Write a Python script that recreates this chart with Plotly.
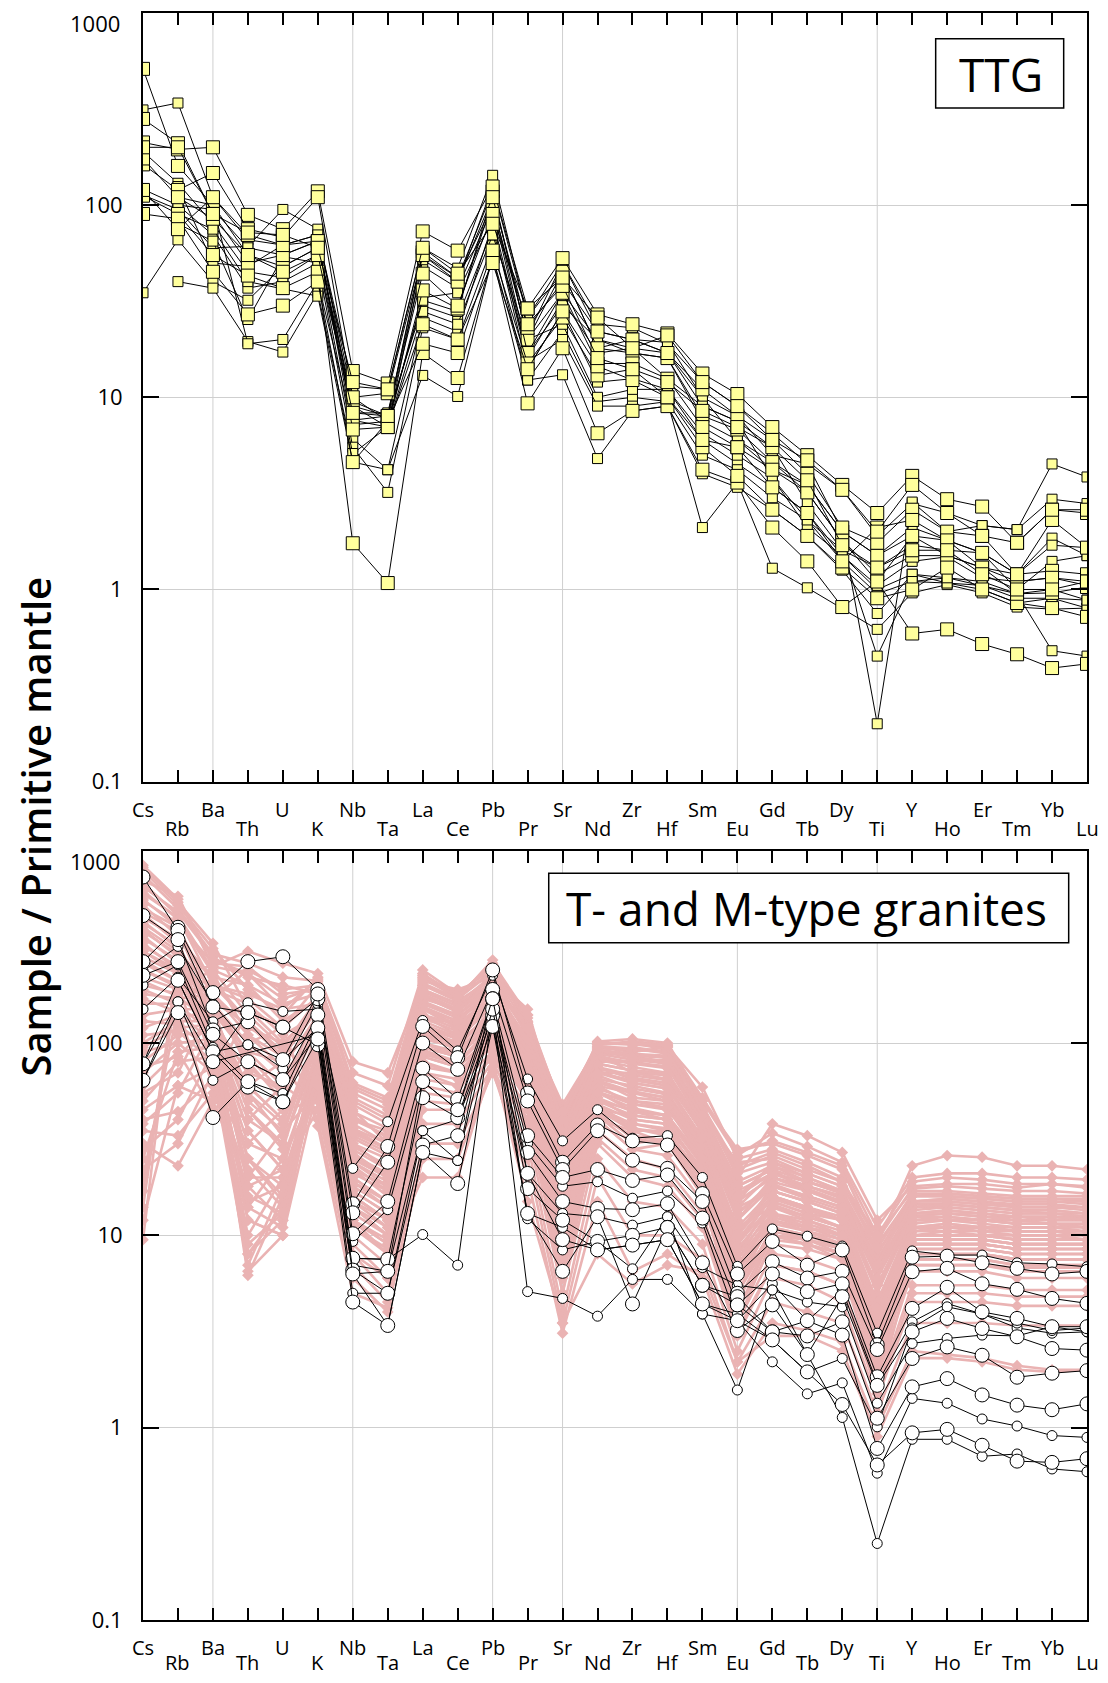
import plotly.graph_objects as go

# ---------------- data ----------------
ELEMENTS = ["Cs", "Rb", "Ba", "Th", "U", "K", "Nb", "Ta", "La", "Ce", "Pb", "Pr", "Sr", "Nd",
            "Zr", "Hf", "Sm", "Eu", "Gd", "Tb", "Dy", "Ti", "Y", "Ho", "Er", "Tm", "Yb", "Lu"]
Y_TICK_VALUES = [0.1, 1, 10, 100, 1000]
Y_TICK_LABELS = ["0.1", "1", "10", "100", "1000"]
GRID_ELEMENTS = ["Ba", "Nb", "Pb", "Sr", "Eu", "Ti"]
PANEL_LABELS = ["TTG", "T- and M-type granites"]
Y_TITLE = "Sample / Primitive mantle"

# TTG (top panel) - large squares
TTG_LARGE = [
    [512, 160, 100, 55, 48, 60, 9.0, 8.0, 57, 42, 118, 20, 45, 18, 17, 16, 8, 6.8, 4.6, 3.5, 2.0, 1.5, 1.9, 1.8, 1.55, 1.2, 1.25, 1.2],
    [281, 210, 90, 50, 55, 65, 7.6, 7.0, 36, 29, 105, 17, 35, 15, 15, 12.5, 7, 5.5, 4.2, 3.2, 1.8, 1.2, 1.5, 1.5, 1.3, 1.1, 1.15, 1.1],
    [212, 195, 200, 89, 75, 118, 13.7, 11.8, 73, 58, 125, 29, 53, 27, 24, 21.5, 13.3, 10.4, 7.0, 5.0, 3.5, 2.5, 3.9, 2.95, 2.7, 1.75, 2.6, 2.5],
    [163, 120, 147, 75, 68, 110, 10, 10.5, 55, 40, 110, 23, 40, 22, 20, 17, 11, 8, 6, 4, 2.1, 1.75, 2.6, 2.0, 1.9, 1.2, 2.3, 1.65],
    [112, 90, 55, 43, 37, 45, 1.74, 1.08, 17, 12.6, 54, 9.3, 18, 6.5, 8.5, 9, 4.2, 3.6, 2.1, 1.4, 0.81, 1.1, 0.59, 0.62, 0.52, 0.46, 0.39, 0.41],
    [90, 85, 45, 27, 30, 40, 4.6, 7.5, 19, 17, 58, 15, 26, 13, 14, 10, 5.5, 3.9, 2.6, 1.9, 1.3, 0.9, 1.0, 1.3, 1.0, 0.85, 0.8, 0.72],
    [120, 75, 110, 70, 62, 65, 6.8, 7.0, 24, 20, 50, 14, 28, 14.5, 12.3, 10, 6, 5.5, 3.4, 2.5, 1.4, 2.1, 2.3, 1.8, 1.3, 0.95, 0.96, 1.03],
    [175, 110, 85, 55, 45, 55, 8.3, 8.0, 44, 30, 90, 24, 38, 16, 14, 12, 8.5, 7, 5.5, 3.7, 1.7, 1.3, 1.6, 1.6, 1.2, 1.0, 1.0, 1.1],
    [200, 200, 90, 72, 70, 60, 12, 11, 60, 44, 80, 29, 42, 26, 18, 21, 12, 9, 6, 4.7, 3.3, 2.0, 3.5, 2.5, 1.9, 1.75, 2.6, 2.6],
]
# TTG (top panel) - small squares
TTG_SMALL = [
    [313, 340, 110, 66, 62, 70, 11.4, 11.0, 60, 47, 143, 26, 50, 24, 23, 19, 12, 9, 6.5, 4.5, 3.3, 1.9, 2.8, 2.5, 2.15, 2.05, 2.95, 2.8],
    [190, 130, 80, 45, 42, 55, 6.1, 4.2, 26, 22, 80, 14, 28, 12, 12.5, 11, 6, 4.5, 3.4, 2.5, 1.5, 1.0, 1.2, 1.15, 1.1, 0.95, 1.0, 0.88],
    [121, 100, 70, 37, 40, 50, 5.5, 3.2, 23, 20, 62, 12.3, 22, 9.5, 10, 9.5, 5, 4.2, 3.0, 2.3, 1.4, 0.95, 1.1, 1.08, 1.05, 0.9, 0.9, 0.8],
    [113, 95, 60, 61, 95, 75, 8.3, 8.3, 48, 37, 97, 16, 32, 17, 18, 12.5, 9, 7.5, 5.5, 2.8, 1.6, 1.3, 1.7, 1.6, 1.55, 1.0, 1.4, 1.5],
    [35, 66, 40, 32, 48, 60, 9.5, 8.0, 30, 26, 75, 17, 30, 20, 17, 16, 7.5, 6, 4.2, 3.5, 2.0, 1.5, 2.1, 1.8, 1.55, 1.2, 1.85, 1.5],
    [None, 40, 37, 19.5, 17.2, 35, 5.1, 7.0, 28, 24, 70, 20, 24, 10, 11, 11, 6.5, 5.0, 3.8, 2.1, 1.5, 1.05, 1.4, 1.48, 1.15, 1.1, 1.15, 1.05],
    [None, 110, 100, 19, 20, 40, 7.2, 7.5, 33, 35, 85, 15.4, 20, 9, 9, 9.5, 2.1, 3.6, 1.29, 1.02, None, 0.62, 0.96, 1.06, 0.96, 0.81, 0.79, 0.8],
    [None, 80, 65, 25.4, 54, 50, 9.0, 7.0, 52, 40, 125, 26, 45, 18, 20, 19.3, 10, 8, 5.0, 4.5, 2.0, 0.2, 2.85, 2.0, 2.15, 2.05, 4.5, 3.85],
    [None, 90, 75, 40, 36.5, 33.6, 4.6, 4.2, 13, 10.1, 54, 12.3, 13.1, 4.8, 8.5, 9, 4.0, 3.4, 2.6, 1.9, 1.26, 0.75, 1.2, 1.08, 1.0, 0.85, 0.9, 0.88],
    [None, 125, 50, 48, 62, 70, 10, 7.5, 32, 28, 115, 20, 35, 20, 18, 17, 10, 6, 4.6, 3.2, 1.8, 1.1, 1.9, 1.5, 1.3, 1.2, 1.7, 1.65],
    [None, 100, 95, 60, 55, 65, 7.6, 8.0, 55, 42, 100, 21, 50, 22, 20, 17, 9, 7.5, 3.8, 2.3, 1.6, 0.45, 1.1, 1.15, 1.05, 0.95, 0.48, 0.45],
]

# T- and M-type granites (bottom panel) - pink field
TM_FIELD = [
    [820, 540, 330, 150, 120, 200, 45, 30, 240, 180, 250, 140, 40, 102, 105, 100, 50, 28, 30, 26, 22, 9, 23, 26, 25.5, 23, 23, 22],
    [700, 580, 250, 300, 260, 230, 80, 70, 200, 170, 270, 120, 48, 95, 90, 95, 48, 20, 38, 33, 27, 12, 18, 18.5, 18.5, 17.7, 18.5, 17.7],
    [650, 480, 280, 220, 200, 180, 55, 45, 210, 190, 220, 150, 35, 100, 98, 96, 59, 25, 28, 24, 20, 8, 16, 16, 15.5, 15, 15, 14.5],
    [600, 450, 200, 180, 150, 160, 40, 35, 180, 150, 230, 110, 30, 90, 85, 80, 45, 15, 24, 20, 17, 6, 15, 15.5, 15, 14, 14, 14],
    [550, 420, 260, 250, 180, 190, 50, 40, 190, 160, 200, 125, 25, 85, 95, 90, 40, 12, 20, 18, 16, 5, 14, 14.5, 14, 13.5, 13, 13],
    [500, 400, 180, 120, 100, 150, 35, 28, 160, 140, 190, 100, 22, 80, 80, 75, 38, 18, 22, 17, 15, 7, 13, 13.5, 13, 12.5, 12.5, 12.5],
    [480, 380, 150, 90, 80, 130, 30, 25, 150, 120, 180, 95, 20, 70, 70, 68, 35, 10, 18, 16, 14, 4, 12.5, 13, 12.5, 12, 12, 12],
    [450, 350, 220, 200, 130, 170, 42, 32, 140, 110, 210, 90, 28, 75, 65, 60, 32, 14, 17, 15, 13, 5.5, 12, 12, 12, 11.5, 11.5, 11],
    [420, 320, 130, 70, 60, 120, 28, 22, 130, 130, 160, 85, 18, 65, 60, 55, 30, 9, 16, 14, 12, 3.5, 11, 11.5, 11, 11, 11, 10.5],
    [400, 300, 190, 160, 110, 140, 25, 20, 120, 100, 170, 80, 15, 60, 55, 50, 28, 8, 15, 13, 11, 4.5, 10.5, 11, 10.5, 10.5, 10.5, 10],
    [380, 290, 160, 100, 70, 110, 22, 18, 110, 95, 150, 75, 12, 55, 50, 48, 26, 11, 14, 12, 10, 3, 10, 10, 10, 9.5, 9.5, 9.5],
    [350, 270, 140, 60, 40, 100, 20, 15, 100, 90, 140, 70, 10, 50, 45, 42, 24, 7, 13, 11, 9.5, 2.5, 9.5, 9.5, 9.5, 9, 9, 9],
    [320, 250, 120, 40, 30, 90, 18, 14, 95, 85, 130, 65, 8, 48, 40, 38, 22, 6, 12, 10.5, 9, 2.2, 9, 9, 9, 8.5, 8.5, 8.5],
    [300, 240, 110, 30, 25, 80, 16, 12, 90, 80, 120, 60, 7, 45, 35, 35, 20, 5, 11, 10, 8.5, 2, 8.5, 8.5, 8.5, 8, 8, 8],
    [280, 230, 100, 20, 20, 75, 15, 11, 85, 75, 110, 55, 6, 42, 30, 32, 18, 4, 10, 9.5, 8, 1.8, 8, 8, 8, 7.5, 7.5, 7.5],
    [260, 210, 95, 15, 18, 70, 14, 10, 80, 70, 100, 50, 5, 40, 28, 30, 16, 3.5, 9.5, 9, 7.5, 1.5, 7.5, 7.5, 7.5, 7, 7, 7],
    [240, 200, 170, 240, 190, 200, 60, 50, 220, 170, 240, 130, 42, 98, 100, 92, 46, 22, 26, 22, 19, 10, 17, 17, 16.5, 16, 16, 16],
    [220, 190, 240, 200, 160, 180, 48, 38, 200, 165, 215, 115, 38, 92, 88, 86, 42, 24, 25, 21, 18, 9, 16, 16.5, 16, 15.5, 15.5, 15],
    [200, 180, 200, 130, 90, 160, 38, 30, 170, 150, 195, 105, 32, 88, 82, 78, 40, 16, 21, 19, 17, 8, 15, 15, 14.5, 14, 14, 13.5],
    [180, 170, 180, 110, 75, 140, 32, 26, 160, 135, 185, 100, 27, 82, 75, 70, 36, 13, 19, 17, 15, 7, 14, 14, 13.5, 13, 13, 12.5],
    [160, 160, 160, 80, 50, 120, 26, 21, 140, 125, 175, 92, 24, 75, 68, 64, 34, 12, 18, 16, 14, 6.5, 13, 13, 12.5, 12.5, 12, 12],
    [140, 150, 150, 50, 35, 110, 24, 19, 135, 115, 165, 88, 21, 72, 62, 58, 31, 10, 17, 15, 13, 5.5, 12, 12.5, 12, 12, 11.5, 11.5],
    [120, 140, 140, 45, 30, 100, 21, 17, 125, 105, 155, 82, 19, 68, 58, 54, 29, 9, 16, 14, 12.5, 4.5, 11.5, 12, 11.5, 11, 11, 11],
    [100, 130, 130, 25, 15, 95, 19, 15, 115, 100, 145, 78, 16, 64, 52, 50, 27, 8, 15, 13, 12, 4, 11, 11, 11, 10.5, 10.5, 10.5],
    [95, 120, 125, 18, 12, 90, 17, 13, 110, 92, 135, 72, 14, 60, 48, 46, 25, 7.5, 14, 12.5, 11, 3.5, 10.5, 10.5, 10.5, 10, 10, 10],
    [80, 110, 115, 12, 10, 85, 15, 12, 100, 85, 125, 66, 12, 56, 44, 42, 23, 6.5, 13, 12, 10.5, 3, 10, 10, 10, 9.5, 9.5, 9.5],
    [70, 100, 105, 8, 14, 80, 13, 10, 92, 80, 115, 60, 10, 52, 40, 38, 21, 5.5, 12, 11, 10, 2.8, 9.5, 9.5, 9.5, 9, 9, 9],
    [60, 90, 95, 6.2, 16, 70, 12, 9, 85, 75, 105, 55, 9, 48, 36, 34, 19, 5, 11, 10, 9, 2.5, 9, 9, 9, 8.5, 8.5, 8.5],
    [50, 80, 85, 10, 20, 65, 11, 8, 75, 70, 95, 50, 8, 44, 32, 30, 17, 4.5, 10, 9.5, 8.5, 2.2, 8.5, 8.5, 8.5, 8, 8, 8],
    [45, 60, 75, 14, 25, 60, 10, 7, 65, 60, 90, 45, 7, 40, 28, 26, 15, 4, 9, 8.5, 7.5, 2, 7.5, 7.5, 7.5, 7, 7, 7],
    [40, 44, 65, 20, 35, 55, 9, 6, 55, 52, 85, 40, 6, 35, 25, 22, 13, 3.5, 8, 7.5, 6.5, 1.8, 6.5, 6.5, 6.5, 6, 6, 6],
    [35, 33, 55, 30, 45, 50, 8, 5, 45, 45, 80, 35, 5, 30, 20, 18, 11, 3, 7, 6.5, 5.5, 1.6, 5.5, 5.5, 5.5, 5.2, 5.2, 5.2],
    [30, 23, 50, 40, 60, 45, 7, 4.5, 38, 38, 75, 30, 4, 25, 15, 14, 9, 2.5, 6, 5.5, 4.5, 1.4, 4.5, 4.5, 4.5, 4.3, 4.3, 4.3],
    [25, 90, 45, 60, 80, 40, 6, 4, 30, 30, 70, 25, 3.5, 20, 10, 10, 7.5, 2.2, 4.5, 4, 3.5, 1.2, 3.5, 3.5, 3.5, 3.4, 3.4, 3.4],
    [20, 150, 42, 100, 120, 37, 5, 4.2, 25, 25, 72, 20, 3.1, 15, 6.5, 8, 6, 1.9, 3.5, 3.2, 2.8, 1.0, 2.5, 2.4, 2.3, 2.1, 2.0, 2.0],
    [17, 200, 60, 150, 100, 60, 12, 8, 20, 20, 80, 15, 3.5, 8, 5.6, 7, 6.5, 2.2, 3.0, 3.0, 2.5, 0.9, 2.3, 2.3, 2.2, 2.0, 1.95, 2.0],
    [14, 250, 80, 8, 12, 70, 25, 20, 60, 55, 110, 48, 15, 40, 35, 30, 18, 6, 10, 9, 8, 3, 7, 7, 7, 6.5, 6.5, 6.5],
    [9.5, 300, 100, 6.5, 10, 90, 30, 22, 70, 60, 120, 52, 18, 45, 42, 40, 20, 7, 11, 9.5, 8.5, 3.5, 8, 8, 8, 7.5, 7.5, 7.5],
    [750, 500, 290, 260, 220, 210, 70, 60, 230, 175, 255, 135, 45, 98, 102, 98, 50, 26, 34, 29, 24, 11, 20, 21, 21, 20, 20, 19.5],
    [680, 460, 240, 140, 95, 170, 40, 33, 175, 145, 225, 108, 33, 84, 80, 82, 44, 19, 23, 19, 16.5, 7.5, 14.5, 14.5, 14, 13.5, 13.5, 13],
    [790, 520, 310, 190, 140, 220, 58, 48, 225, 180, 245, 128, 38, 96, 94, 88, 47, 23, 27, 23, 19, 9.5, 17.5, 18, 17.5, 17, 17, 16.5],
    [620, 440, 230, 110, 85, 150, 36, 30, 185, 155, 205, 112, 30, 86, 78, 74, 41, 17, 21, 18, 15.5, 6.5, 13.5, 14, 13.5, 13, 13, 12.5],
    [560, 400, 170, 75, 55, 125, 27, 20, 150, 125, 175, 92, 24, 74, 66, 62, 35, 13, 18, 15.5, 13.5, 5, 12.5, 12.5, 12, 11.5, 11.5, 11.5],
    [520, 360, 210, 130, 85, 165, 33, 27, 165, 140, 200, 100, 26, 78, 72, 70, 37, 15, 20, 17, 14.5, 6, 13, 13.5, 13, 12.5, 12.5, 12],
    [470, 330, 140, 55, 38, 115, 23, 17, 120, 105, 160, 78, 17, 62, 56, 52, 30, 10.5, 16, 13.5, 12, 4, 11, 11, 11, 10.5, 10.5, 10],
    [430, 310, 120, 35, 22, 95, 19, 14, 105, 95, 150, 70, 13, 56, 48, 45, 27, 9, 14.5, 12.5, 11, 3.2, 10, 10, 10, 9.5, 9.5, 9.5],
    [390, 280, 105, 25, 16, 85, 16, 12, 95, 85, 135, 64, 11, 50, 42, 40, 24, 8, 13, 11.5, 10, 2.8, 9.5, 9.5, 9.5, 9, 9, 9],
    [360, 260, 90, 16, 13, 75, 14, 10, 88, 78, 125, 58, 9, 45, 38, 36, 22, 7, 12, 10.5, 9.5, 2.4, 9, 9, 9, 8.5, 8.5, 8.5],
    [330, 240, 250, 230, 170, 195, 52, 42, 205, 170, 235, 120, 40, 94, 92, 90, 45, 21, 24, 21, 18, 8.5, 16.5, 16.5, 16, 15.5, 15.5, 15.5],
    [300, 230, 200, 170, 120, 175, 44, 36, 190, 160, 225, 110, 35, 90, 86, 84, 42, 18, 22, 19, 16.5, 7.5, 15, 15.5, 15, 14.5, 14.5, 14],
    [270, 210, 165, 125, 85, 150, 36, 28, 175, 145, 205, 100, 29, 84, 78, 76, 39, 15, 20, 17.5, 15, 6.5, 14, 14.5, 14, 13.5, 13.5, 13],
    [240, 195, 145, 85, 55, 130, 29, 23, 155, 130, 185, 92, 25, 78, 72, 68, 36, 13, 18.5, 16, 14, 5.5, 13, 13, 13, 12.5, 12.5, 12],
    [210, 175, 125, 55, 33, 110, 24, 18, 140, 118, 170, 85, 21, 70, 64, 60, 32, 11, 17, 15, 13, 4.5, 12, 12, 12, 11.5, 11.5, 11],
    [190, 160, 110, 35, 22, 95, 20, 15, 125, 108, 155, 76, 18, 64, 56, 52, 29, 9.5, 15.5, 13.5, 12, 3.8, 11, 11, 11, 10.5, 10.5, 10.5],
    [170, 145, 100, 22, 14, 85, 17, 13, 112, 98, 140, 68, 15, 58, 50, 46, 26, 8.5, 14, 12.5, 11, 3.2, 10, 10.5, 10, 10, 10, 9.5],
    [130, 125, 90, 14, 11, 75, 14, 11, 100, 88, 128, 62, 13, 52, 44, 40, 23, 7.5, 12.5, 11, 10, 2.7, 9.5, 9.5, 9.5, 9, 9, 9],
    [110, 115, 80, 9, 13, 65, 12, 9.5, 88, 78, 118, 56, 11, 46, 38, 35, 20, 6.5, 11.5, 10.5, 9, 2.3, 8.5, 8.5, 8.5, 8, 8, 8],
    [90, 100, 70, 7, 18, 58, 11, 8.5, 78, 70, 108, 50, 9.5, 42, 33, 31, 18, 5.5, 10.5, 9.5, 8.5, 2.0, 8, 8, 8, 7.5, 7.5, 7.5],
    [75, 85, 130, 45, 28, 110, 26, 20, 150, 130, 190, 105, 35, 88, 70, 65, 38, 14, 21, 18, 16, 6, 15, 15, 14.5, 14, 14, 14],
    [55, 70, 160, 90, 60, 140, 34, 28, 180, 150, 210, 118, 40, 92, 84, 80, 42, 16, 23, 20, 17, 7, 16, 16, 15.5, 15, 15, 15],
    [38, 55, 120, 60, 40, 100, 22, 16, 130, 110, 165, 85, 22, 70, 62, 58, 32, 10, 16, 14, 12, 4.2, 11, 11.5, 11, 10.5, 10.5, 10.5],
    [28, 40, 90, 25, 18, 80, 16, 12, 95, 85, 130, 65, 14, 55, 46, 42, 25, 7, 13, 11, 10, 3, 9, 9, 9, 8.5, 8.5, 8.5],
    [22, 30, 70, 12, 10, 60, 12, 9, 70, 65, 110, 50, 10, 45, 36, 33, 19, 5, 10, 9, 8, 2.2, 7, 7, 7, 6.8, 6.8, 6.8],
    [12, 60, 50, 18, 22, 45, 8, 6, 50, 48, 90, 38, 6.5, 32, 22, 20, 12, 3.2, 7, 6.5, 5.5, 1.5, 5, 5, 5, 4.8, 4.8, 4.8],
    [840, 560, 270, 230, 150, 215, 62, 52, 215, 175, 260, 140, 44, 100, 100, 97, 52, 27, 31, 27, 23, 10, 19, 20, 19.5, 18.5, 18.5, 18],
]

# T- and M-type granites (bottom panel) - black lines, large circles
TM_LARGE = [
    [265, 400, 183, 265, 281, 190, 14.6, 29, 122, 84, 240, 55, 24, 37.5, 31, 29.5, 16.5, 6.3, 9.3, 7.0, 8.4, 2.7, 7.7, 7.8, 7.2, 6.74, 6.3, 6.5],
    [730, 385, 154, 144, 121, 170, 13.1, 24, 100, 73, 190, 50, 22, 35, 24.6, 22.3, 15, 5.0, 7.3, 6.0, 6.5, 2.55, 6.47, 6.74, 5.6, 5.24, 4.7, 4.43],
    [460, 345, 117, 129, 82, 180, 10.2, 15, 74, 51, 170, 33, 20, 22, 19.3, 20.6, 12.3, 4.35, 6.3, 5.1, 5.6, 1.84, 4.17, 5.37, 4.0, 3.7, 3.35, 3.35],
    [225, 265, 111, 80, 64.6, 140, 7.6, 7.5, 52, 41, 139, 27, 15, 13.8, 13.6, 14.6, 7.2, 3.2, 4.35, 2.4, 4.8, 1.66, 3.15, 3.7, 3.28, 2.97, 2.58, 2.53],
    [78, 212, 90, 59, 49.5, 120, 6.6, 5.0, 29.5, 33, 150, 17.5, 12, 9.3, 10, 11, 5.5, 4.8, 3.15, 3.0, 3.55, 1.12, 2.29, 2.63, 2.38, 1.83, 1.92, 1.98],
    [None, None, 80, 144, 121, 98, 4.5, 3.4, 27, 18.6, 122, 13, 6.5, 12.5, 4.4, 11, 5.5, 4.35, 3.15, 3.6, 3.03, 0.78, 1.63, 1.8, 1.48, 1.31, 1.24, 1.33],
    [64, 144, 41, 63, 49.5, 105, 6.3, 6.5, 63, 45, 170, 21, 9.5, 8.4, 8.9, 9.5, 4.4, 3.6, 2.86, 1.95, 1.32, 0.64, 0.94, 0.98, 0.81, 0.67, 0.66, 0.69],
]
# T- and M-type granites (bottom panel) - black lines, small circles
TM_SMALL = [
    [150, 220, 129, 162, 146, 150, 22.3, 39, 131, 91, 225, 65, 31, 45, 32, 33, 20, 6.9, 10.8, 9.9, 8.8, 3.1, 8.3, 7.9, 7.9, 7.2, 7.1, 6.87],
    [237, 318, 160, 98, 73.5, 160, 9.3, 13.6, 63, 45, 150, 30, 18, 19, 15.6, 17, 11.6, 3.6, 5.6, 3.6, 5.2, 1.7, 3.55, 4.42, 3.9, 3.3, 3.1, 3.15],
    [200, 255, 95, 63, 54.7, 130, 7.0, 6.5, 35, 40, 122, 21, 13, 12.5, 11.3, 12.5, 6.8, 5.5, 5.2, 4.5, 4.25, 1.34, 2.74, 2.91, 3.03, 3.0, 3.35, 3.15],
    [64, 164, 80, None, None, 110, 6.3, 3.4, 27, 24.5, 139, 13, 11, 8.4, 8.9, 9.5, 4.4, 3.9, 2.86, 1.95, 2.29, 1.01, 3.3, 4.25, 3.9, 3.5, 3.2, 3.3],
    [78, 164, 64, 80, 64.6, 110, 5.0, 5.0, 35, 24.5, 190, 12.2, 8.4, 9.3, 6.7, 12.5, 3.9, 1.57, 5.2, 2.4, 1.13, 0.25, 0.87, 0.87, 0.71, 0.73, 0.61, 0.59],
    [None, 212, 90, 98, 82, 120, 7.6, 7.5, 10.1, 7.0, 150, 5.1, 4.7, 3.8, 5.9, 5.9, 3.9, 3.6, 2.2, 1.5, 1.71, 0.58, 1.42, 1.34, 1.11, 1.02, 0.91, 0.89],
]

# ---------------- styling ----------------
FONT = "Open Sans"
PINK = "#EAB3B3"
YELLOW = "#FFFF9C"
GRID = "#CFCFCF"

fig = go.Figure()


def add_series(series_list, xaxis, yaxis, line, marker):
    for vals in series_list:
        fig.add_trace(go.Scatter(
            x=ELEMENTS, y=vals, xaxis=xaxis, yaxis=yaxis,
            mode="lines+markers", connectgaps=True,
            line=line, marker=marker, hoverinfo="skip", showlegend=False))


sq_line = dict(color="black", width=1)
add_series(TTG_SMALL, "x", "y", dict(color="black", width=1),
           dict(symbol="square", size=10, color=YELLOW, line=sq_line))
add_series(TTG_LARGE, "x", "y", dict(color="black", width=1),
           dict(symbol="square", size=13, color=YELLOW, line=sq_line))

add_series(TM_FIELD, "x2", "y2", dict(color=PINK, width=2.6),
           dict(symbol="diamond", size=9, color=PINK, line=dict(width=0)))
add_series(TM_SMALL, "x2", "y2", dict(color="black", width=1),
           dict(symbol="circle", size=10, color="white", line=dict(color="black", width=1)))
add_series(TM_LARGE, "x2", "y2", dict(color="black", width=1),
           dict(symbol="circle", size=14, color="white", line=dict(color="black", width=1)))

TOP_DOMAIN = [0.5217, 1.0]
BOT_DOMAIN = [0.0, 0.4787]

# tick labels: the top one ("1000") is drawn separately, slightly below the frame corner
axis_tick_text = Y_TICK_LABELS[:-1] + [""]

xcommon = dict(type="category", categoryorder="array", categoryarray=ELEMENTS,
               range=[0, 27], showgrid=False, zeroline=False, automargin=False,
               showline=True, linecolor="black", linewidth=2, mirror="ticks",
               ticks="inside", ticklen=12, tickwidth=1.5, tickcolor="black",
               showticklabels=False)
ycommon = dict(type="log", range=[-1, 3], tickvals=Y_TICK_VALUES, ticktext=axis_tick_text,
               showgrid=True, gridcolor=GRID, gridwidth=1, zeroline=False, automargin=False,
               showline=True, linecolor="black", linewidth=2, mirror="ticks",
               ticks="inside", ticklen=16, tickwidth=2, tickcolor="black",
               tickfont=dict(family=FONT, size=22, color="black"),
               ticklabelstandoff=14, ticklabeloverflow="allow")
xouter = dict(type="linear", range=[0, 27], tick0=0, dtick=1, showgrid=False, automargin=False,
              zeroline=False, showline=False, ticks="outside", ticklen=11,
              tickwidth=1.5, tickcolor="black", showticklabels=False)

# the page body adds an 8 px margin, so the figure is sized to fit inside the window
fig.update_layout(
    width=1092, height=1667,
    margin=dict(l=135, r=13, t=5, b=55, autoexpand=False),
    paper_bgcolor="white", plot_bgcolor="white",
    showlegend=False,
    xaxis=dict(xcommon, domain=[0, 1], anchor="y"),
    yaxis=dict(ycommon, domain=TOP_DOMAIN, anchor="x"),
    xaxis2=dict(xcommon, domain=[0, 1], anchor="y2"),
    yaxis2=dict(ycommon, domain=BOT_DOMAIN, anchor="x2"),
    xaxis3=dict(xouter, overlaying="x", anchor="y"),
    xaxis4=dict(xouter, overlaying="x2", anchor="y2"),
)

# vertical grid lines at selected elements
for xa, ya in (("x", "y"), ("x2", "y2")):
    for el in GRID_ELEMENTS:
        fig.add_shape(type="line", xref=xa, yref=f"{ya} domain", x0=el, x1=el, y0=0, y1=1,
                      line=dict(color=GRID, width=1), layer="below")

annotations = []
# element labels, alternating heights
for xa, ya, up, low in (("x", "y", -28, -47), ("x2", "y2", -27, -42)):
    for i, el in enumerate(ELEMENTS):
        annotations.append(dict(
            text=el, x=el, xref=xa, y=0, yref=f"{ya} domain",
            xanchor="center", yanchor="middle", yshift=up if i % 2 == 0 else low,
            showarrow=False, font=dict(family=FONT, size=20, color="black")))

# "1000" labels at the top of each panel
for xa, ya in (("x", "y"), ("x2", "y2")):
    annotations.append(dict(
        text=Y_TICK_LABELS[-1], x=0, xref=f"{xa} domain", y=1, yref=f"{ya} domain",
        xanchor="right", yanchor="middle", xshift=-21, yshift=-10, showarrow=False,
        font=dict(family=FONT, size=22, color="black")))

# panel label boxes
fig.add_shape(type="rect", xref="x domain", yref="y domain",
              x0=0.8397, x1=0.9753, y0=0.8764, y1=0.9666,
              line=dict(color="black", width=1.5), fillcolor="white")
fig.add_shape(type="rect", xref="x2 domain", yref="y2 domain",
              x0=0.4298, x1=0.9806, y0=0.8804, y1=0.9706,
              line=dict(color="black", width=1.5), fillcolor="white")
annotations.append(dict(text=PANEL_LABELS[0], xref="x domain", yref="y domain",
                        x=0.9086, y=0.921, xanchor="center", yanchor="middle",
                        showarrow=False, font=dict(family=FONT, size=46, color="black")))
annotations.append(dict(text=PANEL_LABELS[1], xref="x2 domain", yref="y2 domain",
                        x=0.7025, y=0.925, xanchor="center", yanchor="middle",
                        showarrow=False, font=dict(family=FONT, size=46, color="black")))

# y title
annotations.append(dict(text=Y_TITLE, xref="paper", yref="paper", x=-0.1137, y=0.4935,
                        xanchor="center", yanchor="middle", textangle=-90, showarrow=False,
                        font=dict(family=FONT, size=40, color="black", weight=600)))

fig.update_layout(annotations=annotations)
fig.write_html("out.html")
